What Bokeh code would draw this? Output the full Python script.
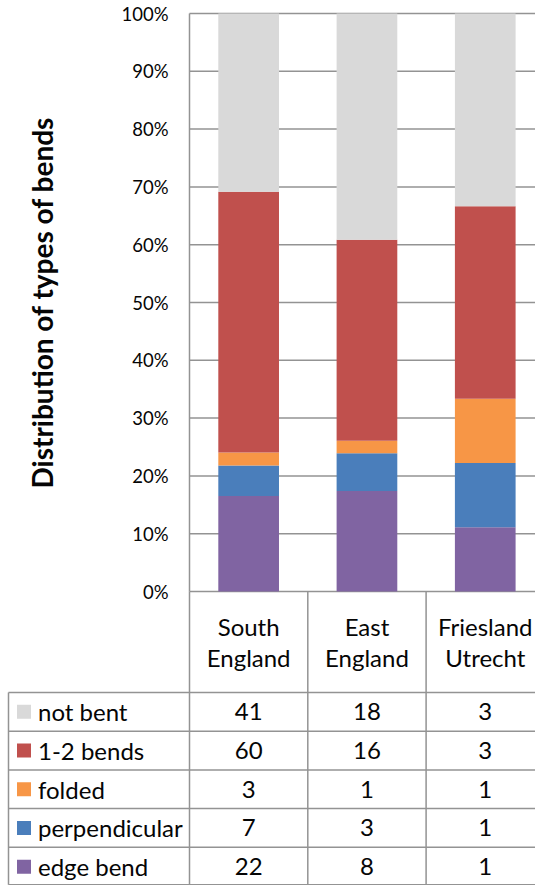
import math
from bokeh.plotting import figure
from bokeh.models import ColumnDataSource, Range1d
from bokeh.embed import file_html
from bokeh.resources import INLINE
from bokeh.core.properties import value

# ---------------- data ----------------
categories = ["South England", "East England", "Friesland Utrecht"]
series_names = ["not bent", "1-2 bends", "folded", "perpendicular", "edge bend"]  # table order (top-down)
not_bent = [41, 18, 3]
bends_1_2 = [60, 16, 3]
folded = [3, 1, 1]
perpendicular = [7, 3, 1]
edge_bend = [22, 8, 1]
series_colors = ["#D9D9D9", "#C0504D", "#F79646", "#4A7EBB", "#8064A2"]
y_tick_values = [0.0, 0.1, 0.2, 0.3, 0.4, 0.5, 0.6, 0.7, 0.8, 0.9, 1.0]
y_tick_labels = ["0%", "10%", "20%", "30%", "40%", "50%", "60%", "70%", "80%", "90%", "100%"]
y_title = "Distribution of types of bends"

counts = [not_bent, bends_1_2, folded, perpendicular, edge_bend]

# ---------------- layout (pixels) ----------------
FONT = "Lato"
W, H = 535, 885
X0 = 189.0      # value axis position
C = 118.3       # width of one category column
Y0 = 591.0      # 0 %
Y100 = 13.0     # 100 %
U = Y0 - Y100
HEADER_BOTTOM = 692.0
ROW_H = 38.7
TABLE_LEFT = 8.0
GRID_COL = "#939393"
TXT = "#050505"


def xd(px):
    return (px - X0) / C


def yd(py):
    return (Y0 - py) / U


n = len(categories)
p = figure(width=W, height=H, x_range=Range1d(xd(0), xd(W)), y_range=Range1d(yd(H), yd(0)),
           output_backend="svg", toolbar_location=None,
           min_border_left=0, min_border_right=0, min_border_top=0, min_border_bottom=0)
p.axis.visible = False
p.grid.visible = False
p.outline_line_color = None
p.background_fill_color = "white"
p.border_fill_color = "white"

# ---------------- gridlines and value axis ----------------
x_right = xd(W)
p.segment(x0=[0] * len(y_tick_values), x1=[x_right] * len(y_tick_values),
          y0=y_tick_values, y1=y_tick_values, line_color=GRID_COL, line_width=1.5)
p.segment(x0=[0], x1=[0], y0=[y_tick_values[0]], y1=[y_tick_values[-1]],
          line_color=GRID_COL, line_width=1.5)
p.text(x=[0] * len(y_tick_values), y=y_tick_values, text=y_tick_labels, x_offset=-21,
       text_align="right", text_baseline="middle", text_font=value(FONT),
       text_font_size="18.5px", text_color=TXT)
p.text(x=[xd(41)], y=[0.5], text=[y_title], angle=math.pi / 2,
       text_align="center", text_baseline="middle", text_font=value(FONT),
       text_font_size="28px", text_font_style="bold", text_color=TXT)

# ---------------- stacked 100% bars ----------------
totals = [sum(c[i] for c in counts) for i in range(n)]
data = {"x": [i + 0.5 for i in range(n)]}
for name, vals in zip(series_names, counts):
    data[name] = [v / t for v, t in zip(vals, totals)]
src = ColumnDataSource(data)
p.vbar_stack(list(reversed(series_names)), x="x", width=0.513,
             color=list(reversed(series_colors)), source=src, line_width=0)

# ---------------- data table ----------------
y_top = yd(Y0)
y_hdr = yd(HEADER_BOTTOM)
y_bot = yd(H - 0.8)
xs0, xs1, ys0, ys1 = [], [], [], []
for i in range(n):
    xs0.append(i); xs1.append(i); ys0.append(y_top); ys1.append(y_bot)
xs0.append(xd(TABLE_LEFT)); xs1.append(xd(TABLE_LEFT)); ys0.append(y_hdr); ys1.append(y_bot)
for r in range(len(series_names) + 1):
    yy = yd(min(HEADER_BOTTOM + r * ROW_H, H - 0.8))
    xs0.append(xd(TABLE_LEFT)); xs1.append(x_right); ys0.append(yy); ys1.append(yy)
p.segment(x0=xs0, x1=xs1, y0=ys0, y1=ys1, line_color=GRID_COL, line_width=1.5)

# header: category names on two lines
hx, hy, ht = [], [], []
for i, c in enumerate(categories):
    for j, part in enumerate(c.split(" ")):
        hx.append(i + 0.5)
        hy.append(yd([625.5, 656.5][j]))
        ht.append(part)
p.text(x=hx, y=hy, text=ht, text_align="center", text_baseline="middle",
       text_font=value(FONT), text_font_size="24px", text_color=TXT)

# cell values
row_centers = [yd(HEADER_BOTTOM + (r + 0.5) * ROW_H) for r in range(len(series_names))]
vx, vy, vt = [], [], []
for r, vals in enumerate(counts):
    for i, v in enumerate(vals):
        vx.append(i + 0.5)
        vy.append(row_centers[r])
        vt.append(str(v))
p.text(x=vx, y=vy, text=vt, text_align="center", text_baseline="middle",
       text_font=value(FONT), text_font_size="24px", text_color=TXT)

# legend keys and series names
p.scatter(x=[xd(23.5)] * len(series_names), y=row_centers, marker="square", size=14,
          fill_color=series_colors, line_color=None)
p.text(x=[xd(37.5)] * len(series_names), y=row_centers, text=series_names,
       text_align="left", text_baseline="middle", text_font=value(FONT),
       text_font_size="24px", text_color=TXT)

open("out.html", "w").write(file_html(p, INLINE))
